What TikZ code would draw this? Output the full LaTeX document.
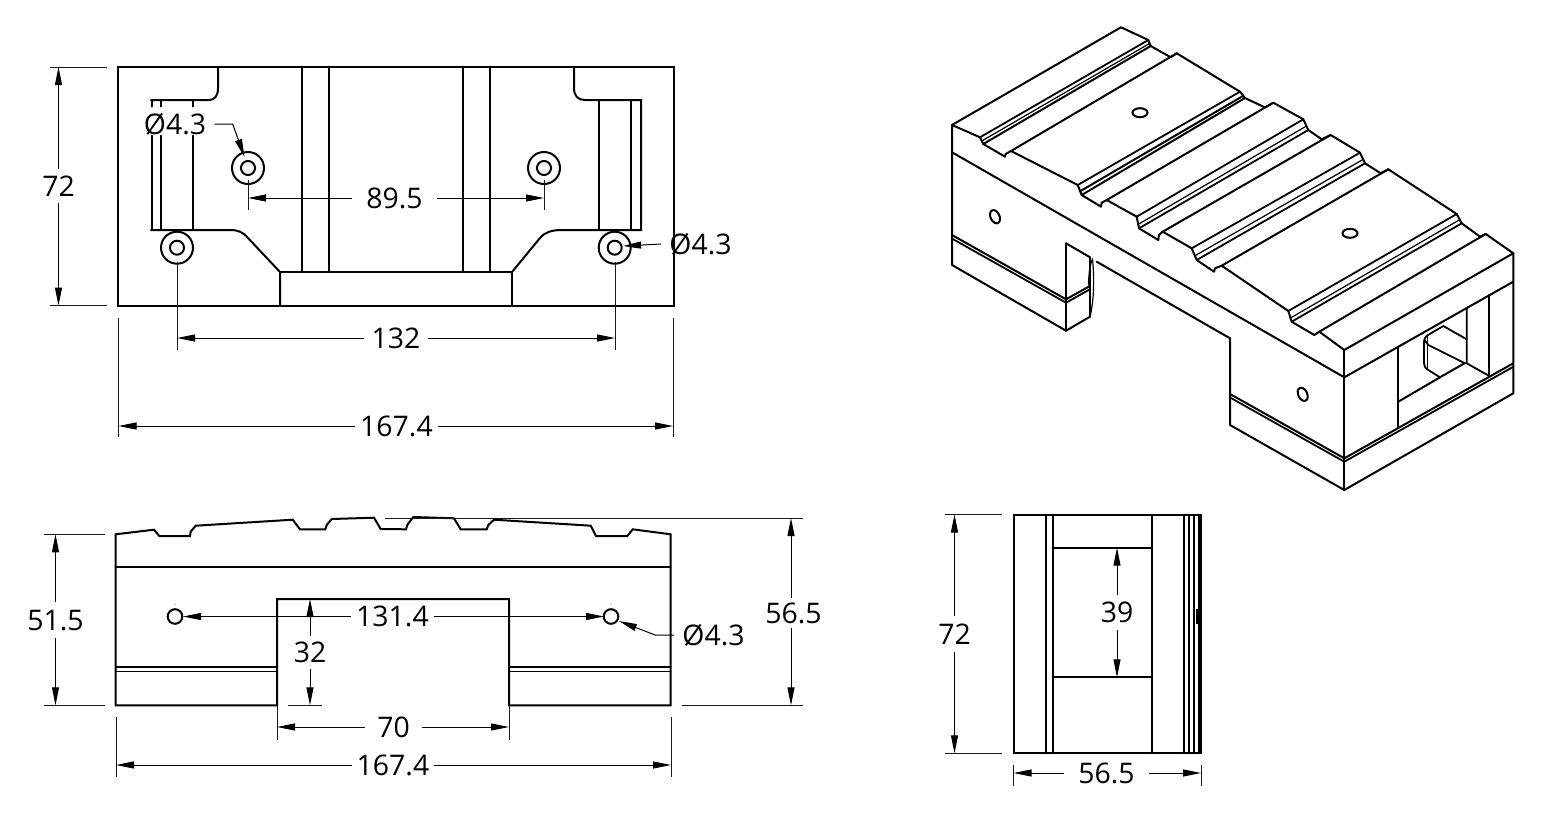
\documentclass[tikz,border=0pt]{standalone}
\usepackage{fontspec}
\setmainfont{Open Sans}
\usetikzlibrary{arrows.meta}
\tikzset{
  part/.style={line width=1pt,line join=miter,line cap=round},
  partmid/.style={line width=0.9pt,line cap=round},
  partthin/.style={line width=0.6pt,line cap=round},
  thinl/.style={line width=0.5pt,draw=black!90},
  dimarrow/.style={line width=0.5pt,-{Triangle[length=9pt,width=3.5pt]}},
  dimlabel/.style={font=\fontsize{14.2}{16}\selectfont,inner sep=0pt,text height=10pt,text depth=0pt},
}
% \dimh[gap]{name}{x-left}{x-right}{y}{x-text}{text}
\newcommand{\dimh}[7][4.5pt]{%
  \node[dimlabel,inner xsep=#1] (#2) at (#6,#5) {#7};
  \coordinate (#2-a) at (#3,#5);
  \coordinate (#2-b) at (#4,#5);
  \draw[dimarrow] (#2) -- (#2-a);
  \draw[dimarrow] (#2) -- (#2-b);
}
% \dimv[gap]{name}{x}{y-top}{y-bottom}{y-text}{text}
\newcommand{\dimv}[7][4.5pt]{%
  \node[dimlabel,inner ysep=#1] (#2) at (#3,#6) {#7};
  \coordinate (#2-a) at (#3,#4);
  \coordinate (#2-b) at (#3,#5);
  \draw[dimarrow] (#2) -- (#2-a);
  \draw[dimarrow] (#2) -- (#2-b);
}
\begin{document}
\begin{tikzpicture}[x=0.5pt,y=-0.5pt]
\useasboundingbox (0,0) rectangle (1560,814);
% ---------- top view ----------
\draw[part] (118,66.5) rectangle (673.5,305.5);
\draw[part] (218,66.5) -- (218,88) .. controls (218,96) and (215,100) .. (208,100) -- (151,100);
\foreach \xx in {151.5,161,193} {
  \draw[part] (\xx,100) -- (\xx,106.5);
  \draw[part] (\xx,135.5) -- (\xx,230);
}
\draw[part] (151,230) -- (230,230) .. controls (238,230) and (243,232) .. (248,238) -- (280,272) -- (280,305.5);
\draw[part] (280,272) -- (512,272) -- (512,305.5);
\draw[part] (302,66.5) -- (302,272);
\draw[part] (328.5,66.5) -- (328.5,272);
\draw[part] (463,66.5) -- (463,272);
\draw[part] (490,66.5) -- (490,272);
\draw[part] (512,272) -- (540,238) .. controls (545,232) and (552,230) .. (562,230) -- (641,230) -- (641,100) -- (585,100) .. controls (578,100) and (574,96) .. (574,88) -- (574,66.5);
\draw[part] (599,100) -- (599,230);
\draw[part] (631,100) -- (631,230);
\foreach \cx/\cy in {248/168,544/168,177/247.7,614.7/247.7} {
  \draw[part] (\cx,\cy) circle[radius=16];
  \draw[part] (\cx,\cy) circle[radius=7];
}
% top-view dimensions
\draw[thinl] (50,67) -- (107,67) (50,305.5) -- (107,305.5);
\dimv[3.5pt]{dA}{58.5}{67}{305.5}{186}{72}
\draw[thinl] (248,180) -- (248,210) (544,180) -- (544,210);
\dimh[7pt]{dB}{248}{544}{198}{394.5}{89.5}
\draw[thinl] (177,262) -- (177,350) (615,262) -- (615,350);
\dimh[3.5pt]{dC}{177}{615}{338}{396}{132}
\draw[thinl] (118.5,318) -- (118.5,437) (673,318) -- (673,437);
\dimh[2.2pt]{dD}{118.5}{673}{426}{396.5}{167.4}
\node[dimlabel,inner xsep=4pt] (lA) at (175,124) {Ø4.3};
\coordinate (lAk) at (232.7,124);
\coordinate (lAt) at (244.5,157);
\draw[line width=0.5pt,-{Triangle[length=9pt,width=3.5pt]}] (lA.east) -- (lAk) -- (lAt);
\node[dimlabel,inner xsep=4pt] (lB) at (700.5,244) {Ø4.3};
\coordinate (lBt) at (623,246);
\draw[dimarrow] (lB.west) -- (lBt);
% ---------- front view ----------
\draw[part] (115.7,534.3) -- (154,529.7) -- (159.3,536) -- (190,536) -- (190.7,531.7) -- (195.7,525.7) -- (292.7,519.7) -- (300,529.3) -- (325.3,529.3) -- (326.7,525) -- (331.7,519) -- (374,517.7) -- (380.7,529) -- (406,529.3) -- (407.3,525) -- (413.3,517) -- (454,518.3) -- (460.7,529.3) -- (486.7,529.3) -- (488.3,525) -- (494,519.7) -- (590.7,525.7) -- (596,536) -- (627.3,536) -- (632.7,529.3) -- (670.7,534.3) -- (670.7,705.3) -- (509,705.3) -- (509,599) -- (277,599) -- (277,705.3) -- (115.7,705.3) -- cycle;
\draw[part] (115.7,567.3) -- (670.7,567.3);
\draw[part] (115.7,666.5) -- (277,666.5) (509,666.5) -- (670.7,666.5);
\draw[partthin] (115.7,671.5) -- (277,671.5) (509,671.5) -- (670.7,671.5);
\draw[part] (175,616.5) circle[radius=7.3];
\draw[part] (611,616.5) circle[radius=7.3];
\fill (175,604) circle[radius=0.5];
\fill (611,604) circle[radius=0.5];
% front-view dimensions
\draw[thinl] (385,518) -- (803,518) (682,705.3) -- (803,705.3);
\dimv[2.2pt]{dE}{791}{518}{705.3}{613}{\hspace*{2.5pt}56.5}
\draw[thinl] (44,534.3) -- (105,534.3) (44,705.3) -- (105,705.3);
\dimv[4pt]{dF}{55.5}{534.3}{705.3}{620}{51.5}
\dimh[2.5pt]{dG}{183}{604}{616.5}{392.5}{131.4}
\draw[thinl] (288,705.3) -- (322,705.3);
\dimv[3pt]{dH}{310}{599}{705.3}{652.5}{32}
\draw[thinl] (277,705.3) -- (277,740) (509,705.3) -- (509,740);
\dimh[6pt]{dI}{277}{509}{727}{393.5}{70}
\draw[thinl] (116,717) -- (116,777) (671,717) -- (671,777);
\dimh[2pt]{dJ}{116}{671}{765}{393}{167.4}
\node[dimlabel,inner xsep=4pt] (lC) at (713.5,635) {Ø4.3};
\coordinate (lCk) at (655,635);
\coordinate (lCt) at (619,621);
\draw[line width=0.5pt,-{Triangle[length=9pt,width=3.5pt]}] (lC.west) -- (lCk) -- (lCt);
% ---------- side view ----------
\draw[part] (1013.5,514.5) rectangle (1201,753.3);
\draw[part] (1046,514.5) -- (1046,753.3);
\draw[part] (1052.7,514.5) -- (1052.7,753.3);
\draw[part] (1151.7,514.5) -- (1151.7,753.3);
\draw[part] (1184.3,514.5) -- (1184.3,753.3);
\draw[part] (1189,514.5) -- (1189,753.3);
\draw[part] (1193.5,514.5) -- (1193.5,753.3);
\draw[line width=1.8pt] (1200,514.5) -- (1200,753.3);
\draw[part] (1052.7,547.7) -- (1151.7,547.7);
\draw[part] (1052.7,677.3) -- (1151.7,677.3);
\fill (1195.5,609) rectangle (1199,624);
\draw[thinl] (945,514.5) -- (1002,514.5) (945,753.3) -- (1002,753.3);
\dimv[4pt]{dK}{954.5}{514.5}{753.3}{634}{72}
\dimv[3.5pt]{dL}{1117}{547.7}{677.3}{612.5}{39}
\draw[thinl] (1013.5,765) -- (1013.5,786) (1201,765) -- (1201,786);
\dimh[7pt]{dM}{1013.5}{1201}{773}{1106.5}{56.5}
% ---------- isometric view ----------
% outline of the top, front profile and rear profile
\draw[part,line join=round] (952,265) -- (952,125) -- (1121,27.3) -- (1148.3,40) -- (1150.7,46) -- (1170.7,57.3) -- (1176.7,53.3) -- (1240,91.7) -- (1245,98) -- (1265,107.5) -- (1273.3,102.7) -- (1303.3,119.3) -- (1308.3,130) -- (1321.7,139.3) -- (1330.7,135) -- (1360,152.7) -- (1365,163.3) -- (1380.7,173.3) -- (1388.3,169.3) -- (1456.7,214) -- (1461.7,223.3) -- (1480,236.7) -- (1485.7,234) -- (1513.3,253.3) -- (1513.3,393.3) -- (1344.3,490) -- (1230,425) -- (1230,338.3) -- (1096.7,261.7);
\draw[part,line join=round] (952,125) -- (980,137.3) -- (983.3,144) -- (1005,156.7) -- (1005.7,154) -- (1011,151) -- (1077.7,185) -- (1081.7,195) -- (1101,206.7) -- (1101.7,202.7) -- (1106.7,200) -- (1136.7,216.7) -- (1139,228.3) -- (1158.3,240) -- (1159,235) -- (1162.7,231.7) -- (1191.7,248.3) -- (1196.7,260) -- (1214,271.7) -- (1215,268.3) -- (1221.7,265.7) -- (1288.3,311) -- (1291.7,321.7) -- (1314.3,335) -- (1319.3,331.7) -- (1344.3,350) -- (1513.3,253.3);
% groove lines
\draw[partmid] (980,137.3) -- (1148.3,40);
\draw[part] (983.3,144) -- (1150.7,46);
\draw[partthin] (981.8,141) -- (1149.5,43.5);
\draw[part] (1011,151) -- (1176.7,53.3);
\draw[partmid] (1077.7,185) -- (1240,91.7);
\draw[part] (1081.7,195) -- (1245,98);
\draw[part] (1079.7,191.5) -- (1243,96);
\draw[part] (1106.7,200) -- (1273.3,102.7);
\draw[partmid] (1136.7,216.7) -- (1303.3,119.3);
\draw[partthin] (1138,224.5) -- (1306.5,126);
\draw[partmid] (1139,228.3) -- (1308.3,130);
\draw[part] (1162.7,231.7) -- (1330.7,135);
\draw[partmid] (1191.7,248.3) -- (1360,152.7);
\draw[partthin] (1194.5,256) -- (1363,159.5);
\draw[partmid] (1196.7,260) -- (1365,163.3);
\draw[part] (1221.7,265.7) -- (1388.3,169.3);
\draw[partmid] (1288.3,311) -- (1456.7,214);
\draw[partthin] (1290.5,318) -- (1460,219.5);
\draw[partmid] (1291.7,321.7) -- (1461.7,223.3);
\draw[part] (1319.3,331.7) -- (1485.7,234);
% side faces
\draw[part] (952,152.3) -- (1344.3,377.3) -- (1513.3,281.7);
\draw[partmid] (1344.3,350) -- (1344.3,490);
\draw[part] (952,265) -- (1066,330.7) -- (1090,316.7);
\draw[part] (1066,243.3) -- (1066,330.7);
\draw[part] (1066,243.3) -- (1090,257.3);
\draw[part] (1090,257.3) -- (1090,316.7);
\draw[partthin] (1092.5,259) .. controls (1094.5,280) and (1094,300) .. (1090,316.7);
\draw[partthin] (1088.5,285) .. controls (1089,270) and (1090,265) .. (1092.5,259);
% bands
\draw[part] (952,235) -- (1066,299.3) -- (1090,286);
\draw[partmid] (952,238.6) -- (1066,302.7) -- (1090,289.3);
\draw[part] (1230,394) -- (1344.3,458.3) -- (1513.3,363.3);
\draw[partmid] (1230,397.5) -- (1344.3,461.7) -- (1513.3,366.8);
% window
\draw[part] (1398.3,347) -- (1398.3,428);
\draw[part] (1398.3,401.7) -- (1440,377.3);
\draw[part] (1440,377.3) -- (1465,363);
\draw[partmid] (1466.7,308) -- (1466.7,363.3) -- (1489.3,376);
\draw[part] (1489.3,295) -- (1489.3,376);
\draw[partmid] (1466.7,339.3) -- (1443.3,326) -- (1428,335) .. controls (1425,337) and (1424,339) .. (1424,343) -- (1424,363) .. controls (1424,366) and (1425,368) .. (1428.3,370) -- (1440,377.3);
\draw[partmid] (1428.3,345) -- (1465,363.3);
\draw[partthin] (1427.5,335.5) -- (1427.5,369.5);
\draw[partmid] (1424.5,340) -- (1428.3,345);
% holes
\draw[part] (995,216.7) circle[x radius=4.5,y radius=7,rotate=25];
\draw[part] (1302.7,394.3) circle[x radius=4.5,y radius=7,rotate=25];
\draw[part] (1140,112.7) circle[x radius=7.5,y radius=4.5];
\draw[part] (1350,233.3) circle[x radius=7.5,y radius=4.5];
\end{tikzpicture}
\end{document}
